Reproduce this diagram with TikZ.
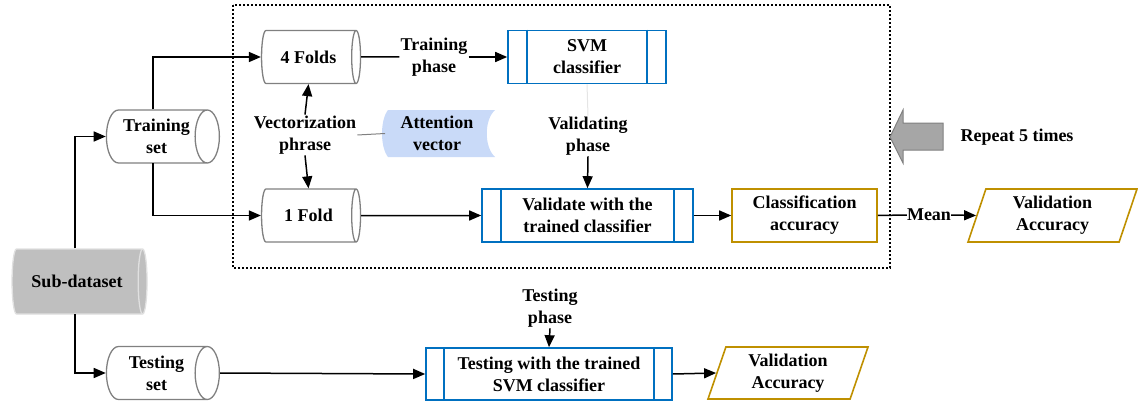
\documentclass[tikz,border=0pt]{standalone}
\usepackage{fontspec}
\setmainfont{Liberation Serif}
\usetikzlibrary{shapes.geometric,arrows.meta,calc}
\definecolor{boxblue}{RGB}{0,112,192}
\definecolor{gold}{RGB}{191,144,0}
\definecolor{attn}{RGB}{201,218,248}
\definecolor{subgray}{RGB}{191,191,191}
\begin{document}
\begin{tikzpicture}[x=1pt,y=-1pt,
  every node/.style={font=\fontsize{18}{22}\selectfont\bfseries, align=center},
  cyl/.style={cylinder, shape border rotate=0, aspect=0.7, draw=black!50, line width=1.3pt,
    minimum width=53pt, minimum height=113pt, inner sep=0pt},
  proc/.style={draw=boxblue, line width=1.6pt, minimum height=53pt, inner sep=0pt},
  res/.style={draw=gold, line width=1.6pt, minimum height=53pt, inner sep=0pt},
  para/.style={trapezium, trapezium left angle=65, trapezium right angle=115,
    trapezium stretches body=true, draw=gold, line width=1.6pt, minimum height=53pt, inner sep=0pt},
  lbl/.style={inner sep=1pt},
  conn/.style={line width=1.5pt},
  arr/.style={conn, -{Triangle[length=12pt,width=10pt]}}
]
\useasboundingbox (0,0) rectangle (1138,404);

% dashed repeat frame
\draw[line width=1.2pt, dash pattern=on 2pt off 2pt] (233,5) rectangle (890,268);

% nodes
\node[cyl, fill=subgray, draw=black!12, minimum height=135pt, minimum width=65pt] (sub) at (77,281.5) {Sub-dataset};
\node[cyl, minimum height=113pt] (train) at (156.5,136.5) {Training\\set};
\node[cyl, minimum height=113pt] (test) at (156.5,373) {Testing\\set};
\node[cyl, minimum height=99pt] (four) at (308.5,57) {4 Folds};
\node[cyl, minimum height=99pt] (one) at (308.5,215.5) {1 Fold};

\node[proc, minimum width=158pt] (svm) at (587,57) {SVM\\classifier};
\node[proc, minimum width=211pt] (val) at (587.5,215.5) {Validate with the\\trained classifier};
\node[proc, minimum width=246pt, minimum height=52pt] (tst) at (549,374) {Testing with the trained\\SVM classifier};
\foreach \n/\d in {svm/20, val/20, tst/19}{
  \draw[boxblue, line width=1.6pt] ([xshift=\d pt]\n.north west) -- ([xshift=\d pt]\n.south west);
  \draw[boxblue, line width=1.6pt] ([xshift=-\d pt]\n.north east) -- ([xshift=-\d pt]\n.south east);
}

\node[res, minimum width=145pt] (cls) at (804.5,215.5) {Classification\\accuracy};
\node[para, minimum width=169pt] (va1) at (1052.5,215.5) {Validation\\Accuracy};
\node[para, minimum width=160pt, minimum height=52pt] (va2) at (788,373) {Validation\\Accuracy};

% attention vector (stored data shape)
\fill[attn] (388,110) -- (495,110) .. controls (484,120) and (484,147) .. (495,157)
  -- (388,157) .. controls (380,147) and (380,120) .. (388,110) -- cycle;
\node[lbl] (att) at (437,133.5) {Attention\\vector};

% labels
\node[lbl] (vec) at (305,135) {Vectorization\\phrase};
\node[lbl] (tph) at (434,57) {Training\\phase};
\node[lbl] (vph) at (588,136) {Validating\\phase};
\node[lbl] (teph) at (550,308) {Testing\\phase};
\node[lbl, inner sep=0pt] (mean) at (929,215) {Mean};

% repeat arrow
\draw[fill=black!35, draw=black!50, line width=1pt]
  (890,137) -- (903,110) -- (903,123) -- (943,123) -- (943,150) -- (903,150) -- (903,163) -- cycle;
\node (rep) at (1017,137) {Repeat 5 times};

% connectors
\draw[arr] (sub.north -| 75,0) |- (train.west);
\draw[arr] (75,314) |- (test.west);
\draw[arr] (train.north -| 153,0) |- (four.west);
\draw[arr] (153,163) |- (one.west);
\draw[conn] (four.east) -- (tph.west);
\draw[arr] (tph.east) -- (svm.west);
\draw[arr] (vec.north) -- (four.south);
\draw[arr] (vec.south) -- (one.north);
\draw[black!50, line width=1pt] (vec.east) -- (att.west -| 385,0);
\draw[black!10, line width=1pt] (svm.south) -- (vph.north);
\draw[arr] (vph.south) -- (val.north);
\draw[arr] (one.east) -- (val.west);
\draw[arr] (val.east) -- (cls.west);
\draw[conn] (cls.east) -- (mean.west);
\draw[arr] (mean.east) -- (va1.west);
\draw[arr] (test.east) -- (tst.west);
\draw[arr] (teph.south) -- (tst.north);
\draw[arr] (tst.east) -- (va2.west);
\end{tikzpicture}
\end{document}
